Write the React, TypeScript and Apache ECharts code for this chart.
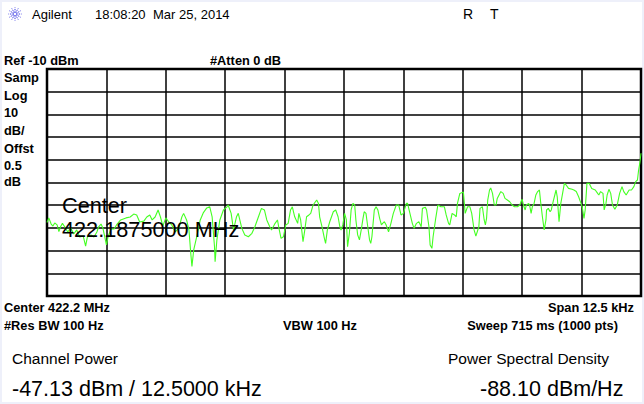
import React, { useEffect, useRef } from "react";
import * as echarts from "echarts";

// Sweep point index (0..1000 across 12.5 kHz span) and measured level (dBm)
const sweepPoint = [
  0, 3, 7, 10, 13, 17, 20, 23, 26, 30, 35, 40, 45, 50, 55, 61, 65, 68, 74, 79,
  84, 87, 91, 94, 97, 100, 103, 108, 113, 118, 124, 133, 140, 146, 151, 156, 163, 168, 173, 177,
  182, 187, 191, 195, 200, 205, 210, 216, 222, 227, 230, 235, 239, 242, 244, 247, 252, 258, 263, 269,
  274, 278, 282, 283, 286, 291, 297, 303, 305, 310, 314, 319, 322, 328, 333, 339, 345, 350, 356, 361,
  366, 370, 375, 378, 384, 388, 390, 394, 398, 402, 406, 410, 413, 417, 422, 424, 427, 431, 434, 437,
  441, 444, 448, 454, 457, 459, 463, 467, 469, 472, 476, 482, 486, 490, 493, 495, 498, 501, 504, 506,
  509, 512, 515, 518, 520, 523, 526, 529, 532, 534, 537, 540, 543, 545, 547, 551, 554, 557, 560, 563,
  565, 568, 571, 575, 579, 583, 588, 592, 596, 600, 605, 607, 611, 615, 618, 622, 626, 630, 632, 637,
  639, 643, 645, 648, 650, 654, 658, 663, 669, 672, 676, 678, 682, 686, 689, 691, 695, 701, 704, 708,
  712, 715, 719, 722, 727, 729, 733, 736, 738, 740, 742, 745, 747, 750, 753, 756, 758, 764, 768, 771,
  775, 779, 783, 787, 792, 796, 799, 800, 802, 805, 807, 811, 813, 815, 817, 820, 823, 826, 829, 831,
  834, 837, 840, 841, 844, 847, 849, 852, 857, 859, 862, 865, 868, 871, 874, 878, 884, 887, 891, 895,
  899, 901, 904, 906, 909, 913, 917, 923, 927, 929, 932, 936, 938, 941, 943, 946, 949, 952, 956, 960,
  964, 968, 971, 975, 980, 984, 988, 991, 994, 996, 998, 1000,
];

const levelDbm = [
  -77.6, -75.6, -78.3, -79.2, -77.8, -78.7, -81.6, -79.4, -78.0, -79.6, -81.8, -80.0, -82.7, -80.9, -84.0, -83.6, -88.0, -84.0, -83.1, -84.0,
  -81.8, -79.5, -78.3, -80.0, -83.6, -87.5, -83.6, -80.5, -80.5, -78.3, -76.5, -75.6, -75.2, -73.9, -74.3, -77.4, -77.0, -75.2, -74.3, -76.5,
  -75.2, -72.1, -75.2, -79.2, -75.6, -77.4, -78.7, -81.8, -80.0, -75.2, -73.6, -76.5, -80.9, -91.1, -97.0, -89.7, -84.0, -76.5, -73.4, -71.2,
  -70.7, -75.1, -88.3, -94.9, -85.3, -76.5, -72.1, -70.7, -69.9, -73.6, -80.9, -75.1, -73.6, -80.2, -83.1, -83.9, -82.4, -79.5, -75.1, -71.4,
  -72.1, -76.5, -79.5, -80.9, -78.0, -76.5, -79.5, -84.6, -83.9, -78.7, -78.0, -72.1, -70.7, -75.1, -78.0, -73.6, -76.5, -86.1, -80.9, -75.1,
  -74.3, -73.6, -69.9, -67.7, -69.2, -75.1, -79.5, -84.6, -86.8, -80.9, -77.3, -72.9, -72.1, -75.1, -79.5, -80.9, -78.7, -73.6, -76.5, -88.3,
  -82.4, -72.1, -69.2, -69.9, -76.5, -83.1, -85.3, -80.9, -75.8, -72.9, -73.6, -79.5, -85.3, -86.8, -83.9, -72.1, -70.7, -72.1, -75.8, -78.7,
  -78.0, -77.3, -78.7, -81.7, -78.0, -73.6, -69.9, -69.9, -74.3, -73.6, -69.2, -69.2, -73.6, -78.0, -80.2, -78.0, -77.3, -79.5, -71.4, -70.9,
  -72.1, -79.5, -87.5, -89.0, -83.9, -76.5, -69.9, -70.7, -70.7, -74.3, -78.0, -78.7, -73.6, -74.3, -75.1, -69.2, -64.8, -64.2, -73.6, -70.7,
  -70.7, -73.6, -80.9, -83.6, -79.5, -71.4, -70.7, -76.5, -78.7, -75.8, -67.7, -63.3, -62.4, -64.8, -69.9, -69.9, -67.0, -64.0, -64.8, -67.0,
  -67.7, -68.5, -69.9, -70.7, -70.7, -69.9, -67.7, -67.4, -69.9, -72.1, -69.9, -69.2, -70.7, -73.6, -70.7, -69.2, -65.5, -64.0, -63.3, -68.5,
  -75.1, -80.9, -76.5, -72.1, -71.4, -72.9, -72.1, -68.5, -63.3, -66.3, -77.3, -69.2, -64.8, -60.4, -61.1, -62.6, -63.0, -63.3, -64.0, -66.3,
  -69.2, -70.7, -75.8, -72.1, -60.4, -60.4, -62.6, -63.3, -64.8, -65.5, -64.0, -64.8, -72.1, -69.2, -65.5, -63.0, -64.8, -69.9, -71.8, -69.9,
  -64.8, -61.8, -64.0, -65.5, -63.3, -63.3, -61.8, -59.6, -58.9, -54.5, -51.5, -47.1,
];

const refLevel = -10;
const bottomLevel = -110;
const dbPerDiv = 10;

const sideLabels = ["Samp", "Log", "10", "dB/", "Offst", "0.5", "dB"];
const sideLabelY = [77, 95, 112, 130, 148, 165, 181];

const FONT = "'Liberation Sans', Arial, sans-serif";

export default function App() {
  const ref = useRef<HTMLDivElement>(null);

  useEffect(() => {
    document.body.style.margin = "0";
    if (!ref.current) return;
    const chart = echarts.init(ref.current, undefined, { renderer: "svg" });

    const txt = (
      text: string,
      x: number,
      y: number,
      size: number,
      bold = false,
      align: string = "left",
      fill = "#000"
    ) => ({
      type: "text",
      z: 50,
      style: {
        text,
        x,
        y,
        fill,
        font: `${bold ? "bold " : ""}${size}px ${FONT}`,
        align,
        verticalAlign: "middle",
      },
    });

    const logoLines: any[] = [];
    for (let i = 0; i < 12; i++) {
      const a = (i * Math.PI) / 6;
      logoLines.push({
        type: "line",
        z: 50,
        shape: {
          x1: 15 + Math.cos(a) * 1.5,
          y1: 14 + Math.sin(a) * 1.5,
          x2: 15 + Math.cos(a) * 6.5,
          y2: 14 + Math.sin(a) * 6.5,
        },
        style: { stroke: "#2a2ae0", lineWidth: 1, lineDash: [1.2, 1] },
      });
    }

    const data = sweepPoint.map((p, i) => [p, levelDbm[i]]);

    chart.setOption({
      animation: false,
      backgroundColor: "transparent",
      grid: {
        left: 47,
        top: 69,
        width: 594,
        height: 227,
        show: true,
        borderColor: "#000",
        borderWidth: 2.5,
        backgroundColor: "transparent",
      },
      xAxis: {
        type: "value",
        min: 0,
        max: 1000,
        interval: 100,
        axisLine: { show: false },
        axisTick: { show: false },
        axisLabel: { show: false },
        splitLine: { show: true, lineStyle: { color: "#000", width: 1.5 } },
      },
      yAxis: {
        type: "value",
        min: bottomLevel,
        max: refLevel,
        interval: dbPerDiv,
        axisLine: { show: false },
        axisTick: { show: false },
        axisLabel: { show: false },
        splitLine: { show: true, lineStyle: { color: "#000", width: 1.5 } },
      },
      series: [
        {
          type: "line",
          data,
          showSymbol: false,
          symbol: "none",
          lineStyle: { color: "#44ff22", width: 1.1 },
          z: 5,
        },
      ],
      graphic: [
        ...logoLines,
        txt("Agilent", 32, 14, 13),
        txt("18:08:20", 95, 14, 13),
        txt("Mar 25, 2014", 153, 14, 13),
        txt("R", 463, 14, 14),
        txt("T", 490, 14, 14),
        txt("Ref -10 dBm", 4, 60, 12.8, true),
        txt("#Atten 0 dB", 210, 60, 12.8, true),
        ...sideLabels.map((s, i) => txt(s, 4, sideLabelY[i], 12.8, true)),
        txt("Center", 62, 205, 21.7),
        txt("422.1875000 MHz", 62, 229, 21.7),
        txt("Center 422.2 MHz", 4, 307, 12.8, true),
        txt("Span 12.5 kHz", 634, 307, 12.8, true, "right"),
        txt("#Res BW 100 Hz", 4, 325, 12.8, true),
        txt("VBW 100 Hz", 283, 325, 12.8, true),
        txt("Sweep 715 ms (1000 pts)", 618, 325, 12.8, true, "right"),
        txt("Channel Power", 12, 358, 15.5),
        txt("Power Spectral Density", 448, 358, 15.5),
        txt("-47.13 dBm / 12.5000 kHz", 12, 389, 21.5),
        txt("-88.10 dBm/Hz", 480, 389, 21.5),
      ],
    });

    return () => chart.dispose();
  }, []);

  return (
    <div style={{ position: "relative", width: 644, height: 404, background: "#eef0fa", overflow: "hidden" }}>
      <div style={{ position: "absolute", left: 2, top: 2, width: 640, height: 400, background: "#fff" }} />
      <div ref={ref} style={{ position: "absolute", left: 0, top: 0, width: 644, height: 404 }} />
    </div>
  );
}
